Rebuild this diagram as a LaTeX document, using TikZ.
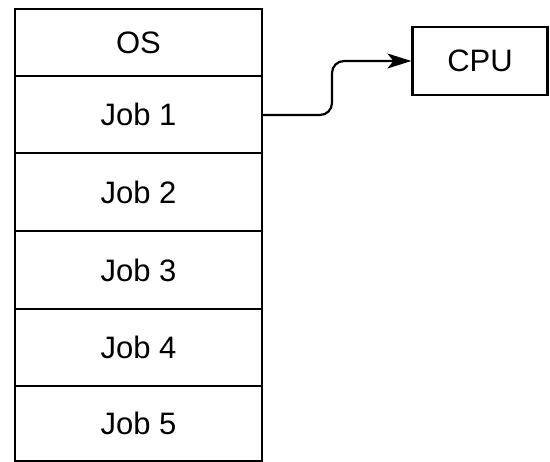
\documentclass[tikz,border=0pt]{standalone}
\usepackage{fontspec}
\setmainfont{Liberation Sans}
\usetikzlibrary{arrows.meta}
\begin{document}
\begin{tikzpicture}[x=1pt,y=-1pt,
  cell/.style={draw,line width=2.2pt,minimum width=247pt,inner sep=0pt,font=\fontsize{31}{32}\selectfont},
  link/.style={line width=2.2pt,rounded corners=12pt}]
\useasboundingbox (0,0) rectangle (550,462);
\node[cell,minimum height=67pt] (os) at (138.5,42.5) {OS};
\node[cell,minimum height=77pt] (j1) at (138.5,114.5) {Job 1};
\node[cell,minimum height=78pt] (j2) at (138.5,192) {Job 2};
\node[cell,minimum height=78pt] (j3) at (138.5,270) {Job 3};
\node[cell,minimum height=77pt] (j4) at (138.5,347.5) {Job 4};
\node[cell,minimum height=75pt] (j5) at (138.5,423.5) {Job 5};
\node[draw,line width=2.2pt,minimum width=135pt,minimum height=68pt,inner sep=0pt,font=\fontsize{31}{32}\selectfont] (cpu) at (480,61) {CPU};
\coordinate (bend) at (332,115);
\draw[link,-{Stealth[length=24pt,width=15pt,inset=6pt]}] (j1.east |- bend) -- (bend) |- (cpu.west);
\end{tikzpicture}
\end{document}
